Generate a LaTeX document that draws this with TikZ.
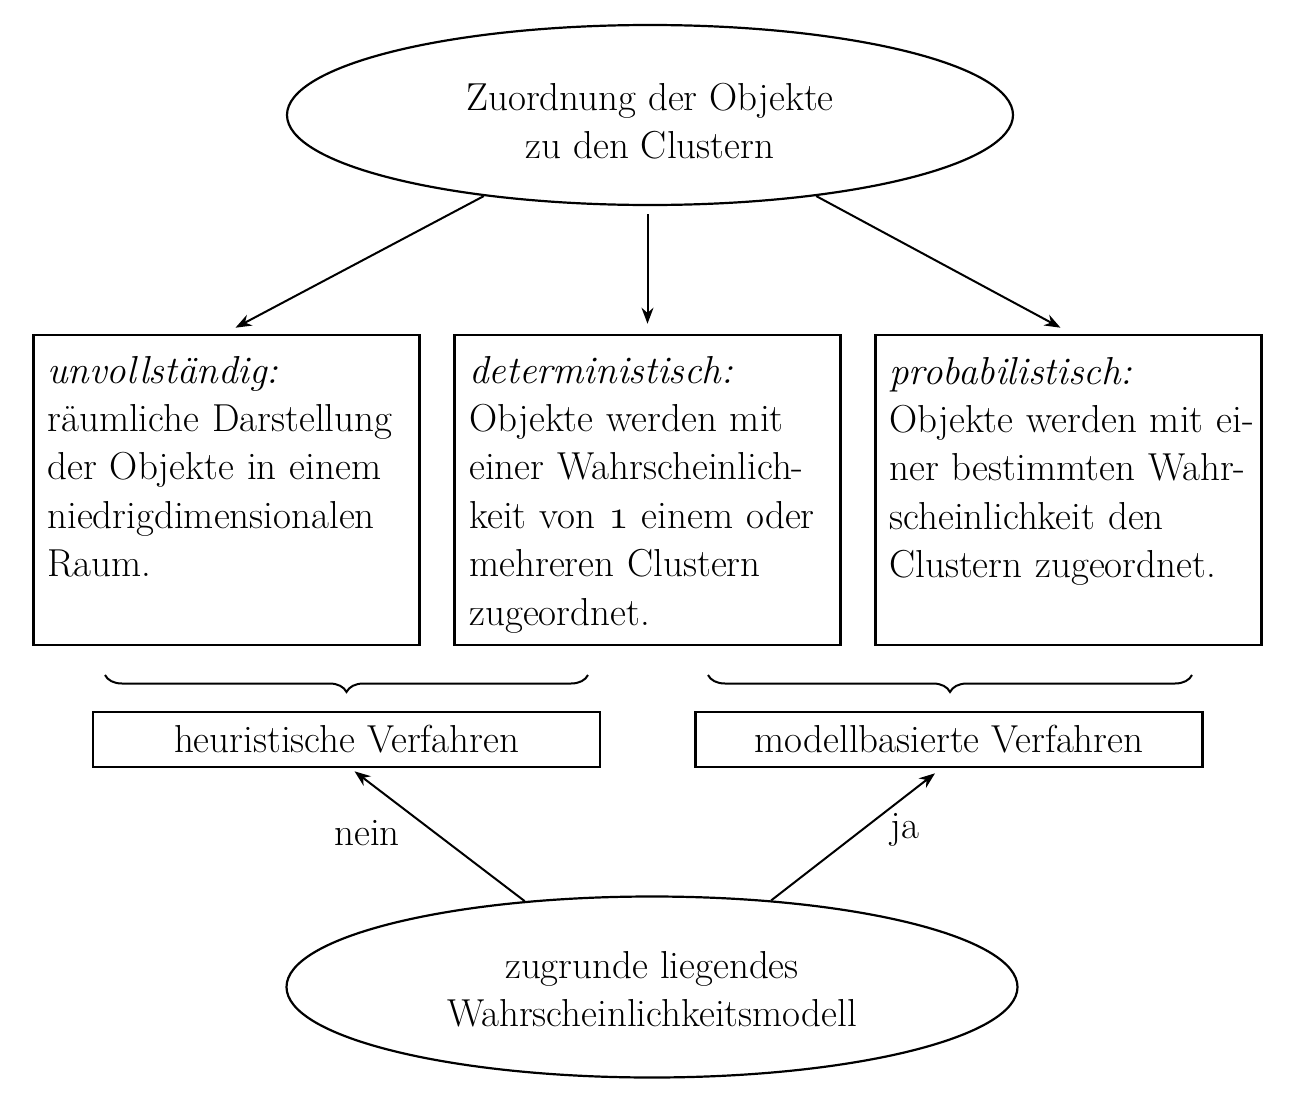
\documentclass[tikz,border=0pt]{standalone}
\usepackage{fontspec}
\usetikzlibrary{shapes.geometric,arrows.meta,decorations.pathreplacing,calc}
\newcommand{\oldone}{{\fontencoding{OML}\fontfamily{cmm}\fontseries{m}\fontshape{it}\selectfont 1}}
\begin{document}
\begin{tikzpicture}[x=0.5pt,y=-0.5pt,
  txt/.style={font=\fontsize{19.5}{24.2}\selectfont},
  oval/.style={draw,ellipse,line width=1.1pt,inner sep=0pt,align=center,txt},
  bigbox/.style={draw,rectangle,line width=1.3pt,inner sep=0pt,minimum width=193pt,minimum height=155pt},
  boxtext/.style={anchor=base west,inner sep=0pt,text width=192pt,align=left,txt},
  smallbox/.style={draw,rectangle,line width=1.3pt,minimum width=253.5pt,minimum height=27.5pt,inner sep=0pt,txt},
  arr/.style={-{Stealth[length=8pt,width=6pt]},line width=1pt},
  brc/.style={decorate,decoration={brace,mirror,amplitude=8.5pt},line width=1pt},
  lbl/.style={txt,inner sep=0pt}
]
\useasboundingbox (0,0) rectangle (1302,1108);

\node[oval,minimum width=363pt,minimum height=90pt] (Z) at (650,115) {\rule{0pt}{20pt}Zuordnung der Objekte\\zu den Clustern};

\node[bigbox] (L) at (226.5,490) {};
\node[bigbox] (M) at (647.5,490) {};
\node[bigbox] (R) at (1068.5,490) {};

\node[boxtext] (Lt) at (47,383) {\textit{unvollständig:}\\räumliche Darstellung\\der Objekte in einem\\niedrigdimensionalen\\Raum.};
\node[boxtext] (Mt) at (469,383) {\textit{deterministisch:}\\Objekte werden mit\\einer Wahrscheinlich-\\keit von \oldone{} einem oder\\mehreren Clustern\\zugeordnet.};
\node[boxtext] (Rt) at (889,384) {\textit{probabilistisch:}\\Objekte werden mit ei-\\ner bestimmten Wahr-\\scheinlichkeit den\\Clustern zugeordnet.};

\draw[brc] (105,675) -- (588,675);
\draw[brc] (708,675) -- (1192,675);

\node[smallbox] (H) at (346.5,739.5) {heuristische Verfahren};
\node[smallbox] (B) at (949,739.5) {modellbasierte Verfahren};

\node[oval,minimum width=365.5pt,minimum height=90.5pt] (W) at (652,987) {\rule{0pt}{16pt}zugrunde liegendes\\Wahrscheinlichkeitsmodell};

\draw[arr] (Z.206) -- ([xshift=4.5pt,yshift=3pt]L.north);
\draw[arr,shorten <=4pt] (M.north |- Z.south) -- ([yshift=5pt]M.north);
\draw[arr] (Z.334) -- ([xshift=-4pt,yshift=3pt]R.north);

\draw[arr] (W.146.5) -- ([xshift=4pt,yshift=-1.5pt]H.south);
\draw[arr] (W.36.3) -- ([xshift=-7pt,yshift=-2.5pt]B.south);

\node[lbl] (nein) at (367,833) {nein};
\node[lbl] (ja) at (905,830) {ja};
\end{tikzpicture}
\end{document}
